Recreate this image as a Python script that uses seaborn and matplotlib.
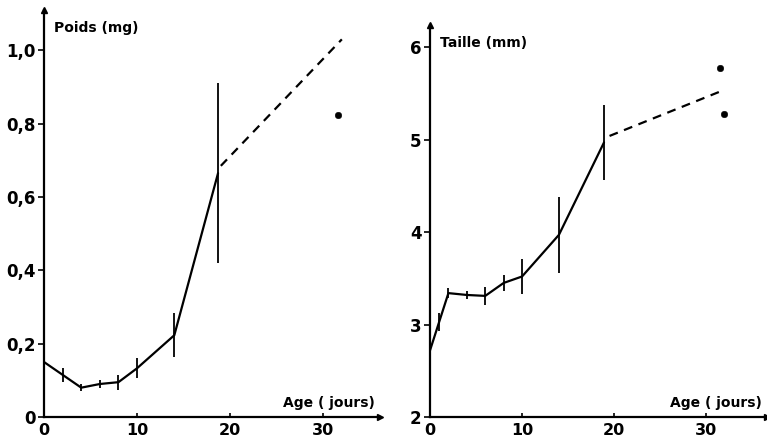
import numpy as np
import pandas as pd
import seaborn as sns
import matplotlib.pyplot as plt

# weight (left panel)
age_w = [0, 2, 4, 6, 8, 10, 14, 18.7]
poids = [0.15, 0.115, 0.08, 0.09, 0.095, 0.133, 0.223, 0.665]
poids_err = [0.0, 0.02, 0.01, 0.01, 0.02, 0.027, 0.06, 0.245]
poids_dash_x = [19, 32]
poids_dash_y = [0.685, 1.03]
poids_pt_x = [31.6]
poids_pt_y = [0.823]

# size (right panel)
age_t = [0, 1, 2, 4, 6, 8, 10, 14, 18.9]
taille = [2.72, 3.03, 3.34, 3.32, 3.31, 3.45, 3.52, 3.97, 4.97]
taille_err = [0.0, 0.1, 0.05, 0.04, 0.1, 0.09, 0.19, 0.41, 0.41]
taille_dash_x = [19.5, 32]
taille_dash_y = [5.04, 5.54]
taille_pt_x = [31.5, 31.9]
taille_pt_y = [5.77, 5.28]

sns.set_style('ticks')
plt.rcParams['font.family'] = ['DejaVu Sans']
plt.rcParams['font.weight'] = 'bold'
plt.rcParams['text.color'] = 'black'
plt.rcParams['xtick.color'] = 'black'
plt.rcParams['ytick.color'] = 'black'
plt.rcParams['axes.edgecolor'] = 'black'

fig = plt.figure(figsize=(7.67, 4.41), dpi=100)
ax1 = fig.add_axes([44 / 767, 24 / 441, 336 / 767, 407 / 441])
ax2 = fig.add_axes([430 / 767, 24 / 441, 337 / 767, 392 / 441])


def draw(ax, x, y, err, dx, dy, px, py, xmax, ylo, yhi, yticks, ylabels, title):
    df = pd.DataFrame({'age': x, 'val': y})
    sns.lineplot(data=df, x='age', y='val', ax=ax, color='black', lw=1.6)
    ax.errorbar(x, y, yerr=err, fmt='none', ecolor='black', elinewidth=1.3, capsize=0)
    sns.lineplot(x=dx, y=dy, ax=ax, color='black', lw=1.6, linestyle=(0, (4, 3)))
    sns.scatterplot(x=px, y=py, ax=ax, color='black', s=22, edgecolor='black')
    ax.set_xlim(0, xmax)
    ax.set_ylim(ylo, yhi)
    ax.set_xticks([0, 10, 20, 30])
    ax.set_xticklabels(['0', '10', '20', '30'], fontsize=11.5, fontweight='bold')
    ax.set_yticks(yticks)
    ax.set_yticklabels(ylabels, fontsize=12, fontweight='bold')
    ax.tick_params(axis='x', direction='in', length=3, width=1.2, pad=4)
    ax.tick_params(axis='y', direction='out', length=4, width=1.2, pad=2)
    ax.set_xlabel('')
    ax.set_ylabel('')
    sns.despine(ax=ax)
    for s in ['left', 'bottom']:
        ax.spines[s].set_linewidth(1.6)
    # axis arrows
    ax.plot(0, 1, marker='^', color='black', ms=5, transform=ax.transAxes, clip_on=False)
    ax.plot(1, 0, marker='>', color='black', ms=5, transform=ax.transAxes, clip_on=False)
    ax.text(0.03, 0.955, title, transform=ax.transAxes, fontsize=10, fontweight='bold', va='center')
    ax.text(0.985, 0.035, 'Age ( jours)', transform=ax.transAxes, fontsize=10,
            fontweight='bold', ha='right', va='center')


draw(ax1, age_w, poids, poids_err, poids_dash_x, poids_dash_y, poids_pt_x, poids_pt_y,
     36.1, 0, 1.11, [0, 0.2, 0.4, 0.6, 0.8, 1.0], ['0', '0,2', '0,4', '0,6', '0,8', '1,0'],
     'Poids (mg)')
draw(ax2, age_t, taille, taille_err, taille_dash_x, taille_dash_y, taille_pt_x, taille_pt_y,
     36.6, 2, 6.24, [2, 3, 4, 5, 6], ['2', '3', '4', '5', '6'], 'Taille (mm)')

fig.savefig('out.png', dpi=100)
